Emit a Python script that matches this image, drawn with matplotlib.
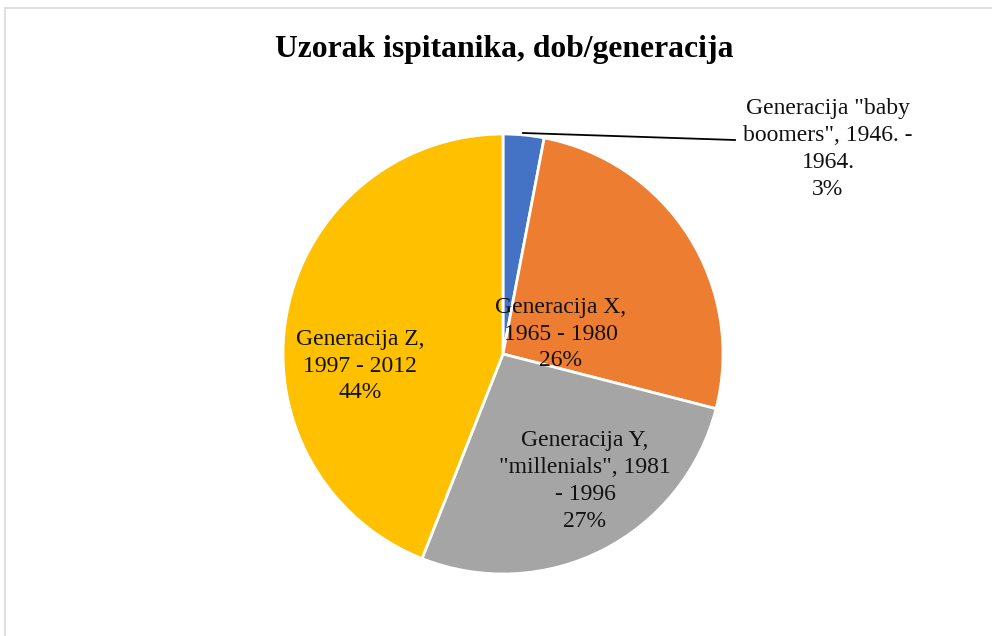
import matplotlib
matplotlib.use('Agg')
import matplotlib.pyplot as plt
from matplotlib.patches import Rectangle

labels = ['Generacija "baby\nboomers", 1946. -\n1964.',
          'Generacija X,\n1965 - 1980',
          'Generacija Y,\n"millenials", 1981\n- 1996',
          'Generacija Z,\n1997 - 2012']
values = [3, 26, 27, 44]
colors = ['#4472C4', '#ED7D31', '#A5A5A5', '#FFC000']
title = 'Uzorak ispitanika, dob/generacija'

W, H = 992, 636
fig = plt.figure(figsize=(W / 100, H / 100), dpi=100)

# pie centre and radius in pixels
cx, cy, r = 503, 354, 220
ax = fig.add_axes([(cx - r) / W, (H - cy - r) / H, 2 * r / W, 2 * r / H])
ax.axis('off')

ax.pie(values, colors=colors, startangle=90, counterclock=False, radius=1,
       wedgeprops=dict(edgecolor='white', linewidth=2))
ax.set_xlim(-1, 1)
ax.set_ylim(-1, 1)

def px(x, y):
    return (x - cx) / r, (cy - y) / r

label_pos = [px(828, 149), px(561, 334), px(585, 481), px(360, 366)]
for lab, v, (x, y) in zip(labels, values, label_pos):
    ax.text(x, y, f'{lab}\n{v}%', ha='center', va='center', fontsize=17,
            family=['Liberation Serif', 'DejaVu Serif'], linespacing=1.36,
            color='#111111')

# leader line for the small slice
x0, y0 = px(523, 133)
x1, y1 = px(735, 140)
ax.plot([x0, x1], [y0, y1], color='black', lw=1.3, clip_on=False)

fig.text(504 / W, 1 - 57 / H, title, ha='center', va='baseline', fontsize=22.8,
         fontweight='bold', family=['Liberation Serif', 'DejaVu Serif'])

# chart area border
fig.patches.append(Rectangle((5 / W, -0.1), 1.2, 1 - 8 / H + 0.1,
                             transform=fig.transFigure, fill=False,
                             edgecolor='#D9D9D9', lw=1.2))

fig.savefig('out.png', dpi=100, facecolor='white')
